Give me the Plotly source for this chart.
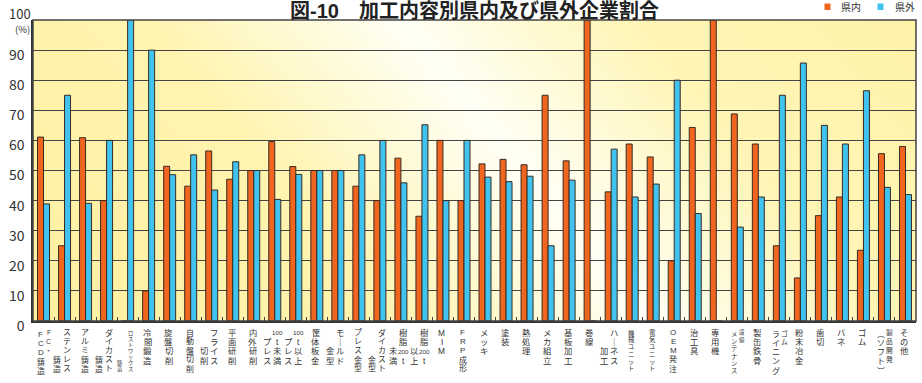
import base64
import plotly.graph_objects as go

# ---- data -------------------------------------------------------------
# Each label is listed as its vertical text columns, read right to left.
LABEL_COLUMNS = [
    ["FC・", "FCD鋳造"],
    ["ステンレス", "鋳造"],
    ["アルミ鋳造"],
    ["ダイカスト", "鋳造"],
    ["ロストワックス", "鋳造"],
    ["冷間鍛造"],
    ["旋盤切削"],
    ["自動盤切削"],
    ["フライス", "切削"],
    ["平面研削"],
    ["内外研削"],
    ["100t未満", "プレス"],
    ["100t以上", "プレス"],
    ["筐体板金"],
    ["モールド", "金型"],
    ["プレス金型"],
    ["ダイカスト", "金型"],
    ["樹脂200t", "未満"],
    ["樹脂200t", "以上"],
    ["MIM"],
    ["FRP成形"],
    ["メッキ"],
    ["塗装"],
    ["熱処理"],
    ["メカ組立"],
    ["基板加工"],
    ["巻線"],
    ["ハーネス", "加工"],
    ["機械ユニット"],
    ["電気ユニット"],
    ["OEM発注"],
    ["治工具"],
    ["専用機"],
    ["設備", "メンテナンス"],
    ["製缶鉄骨"],
    ["ゴム", "ライニング"],
    ["粉末冶金"],
    ["歯切"],
    ["バネ"],
    ["ゴム"],
    ["製品開発", "(ソフト)"],
    ["その他"],
]
CATEGORIES = ["".join(cols) for cols in LABEL_COLUMNS]

# 県内 (in-prefecture) share, %
IN_PREF = [61.1, 25, 60.9, 40, 0, 10, 51.4, 44.8, 56.5, 47.1, 50, 59.6, 51.3, 50,
           50, 44.8, 40, 54.1, 34.8, 60, 40, 52.2, 53.7, 51.9, 75, 53.2, 100, 42.9,
           58.8, 54.5, 20, 64.3, 100, 68.8, 58.8, 25, 14.3, 35, 41.2, 23.5, 55.6, 58]
# 県外 (out-of-prefecture) share, %
OUT_PREF = [38.9, 75, 39.1, 60, 100, 90, 48.6, 55.2, 43.5, 52.9, 50, 40.4, 48.7, 50,
            50, 55.2, 60, 45.9, 65.2, 40, 60, 47.8, 46.3, 48.1, 25, 46.8, 0, 57.1,
            41.2, 45.5, 80, 35.7, 0, 31.2, 41.2, 75, 85.7, 65, 58.8, 76.5, 44.4, 42]

Y_TICKS = [0, 10, 20, 30, 40, 50, 60, 70, 80, 90]
SERIES_NAMES = ["県内", "県外"]
TITLE = "図-10　加工内容別県内及び県外企業割合"

# ---- styling ----------------------------------------------------------
W, H = 922, 383
ML, MR, MT, MB = 33, 6, 20, 62
PW, PH = W - ML - MR, H - MT - MB
ORANGE = "#F1661F"
BLUE = "#40C4EF"
EDGE = "#3a2a22"
INK = "#333333"
FONT = "Noto Sans CJK JP"
# compact line metrics for stacked glyphs and the title; kana/kanji fall back to CJK
TIGHT_FONT = "Liberation Sans, Noto Sans CJK JP"
N = len(CATEGORIES)
CAT_PX = PW / N


def px_x(px):
    return (px - ML) / PW


def px_y(py):
    return (MT + PH - py) / PH


# plot-area background: yellow with a diagonal pale glow
svg = f'''<svg xmlns="http://www.w3.org/2000/svg" width="{PW}" height="{PH}" viewBox="0 0 {PW} {PH}" preserveAspectRatio="none">
<defs><linearGradient id="g" gradientUnits="userSpaceOnUse" x1="-147.5" y1="122.9" x2="520.9" y2="-434.1">
<stop offset="0" stop-color="#FFF0A0"/>
<stop offset="0.32" stop-color="#FFF4B0"/>
<stop offset="0.545" stop-color="#FFFFF5"/>
<stop offset="0.75" stop-color="#FFF5B6"/>
<stop offset="1" stop-color="#FFF3A8"/>
</linearGradient></defs><rect width="{PW}" height="{PH}" fill="url(#g)"/></svg>'''
bg_src = "data:image/svg+xml;base64," + base64.b64encode(svg.encode()).decode()

fig = go.Figure()
fig.add_trace(go.Bar(x=CATEGORIES, y=IN_PREF, name=SERIES_NAMES[0],
                     marker=dict(color=ORANGE, line=dict(color=EDGE, width=1))))
fig.add_trace(go.Bar(x=CATEGORIES, y=OUT_PREF, name=SERIES_NAMES[1],
                     marker=dict(color=BLUE, line=dict(color=EDGE, width=1))))


# ---- vertical category labels -----------------------------------------
def slots(text):
    """Split a column into vertical glyph slots (digit runs share one slot)."""
    out, i = [], 0
    text = text.replace("ー", "｜").replace("(", "︵").replace(")", "︶")
    while i < len(text):
        if text[i].isdigit():
            j = i
            while j < len(text) and text[j].isdigit():
                j += 1
            out.append(text[i:j])
            i = j
        else:
            out.append(text[i])
            i += 1
    return out


annotations = []
FIRST_Y = 332.5    # centre of the first glyph row
SPAN = 36.0        # distance between first and last glyph rows


def step_for(n):
    return 9.4 if n <= 1 else min(9.4, SPAN / (n - 1))


def size_for(step):
    return step / 1.13


def put_column(ci, dx, glyphs, ys, size):
    for g, y in zip(glyphs, ys):
        fs = size * 0.75 if g.isdigit() else size
        annotations.append(dict(
            x=ci + dx / CAT_PX, y=px_y(y), xref="x", yref="paper",
            text=g, showarrow=False, xanchor="center", yanchor="middle",
            borderpad=0, borderwidth=0,
            font=dict(family=TIGHT_FONT, size=round(fs, 2), color=INK)))


for ci, cols in enumerate(LABEL_COLUMNS):
    if len(cols) == 1:
        g = slots(cols[0])
        st = step_for(len(g))
        put_column(ci, -1.0, g, [FIRST_Y + k * st for k in range(len(g))], size_for(st))
    else:
        gr, gl = slots(cols[0]), slots(cols[1])
        if len(gr) >= len(gl):
            # main text on the right, the tail hangs lower on the left
            st = step_for(len(gr))
            ys_r = [FIRST_Y + k * st for k in range(len(gr))]
            ys_l = [ys_r[-1] - (len(gl) - 1 - k) * st for k in range(len(gl))]
            put_column(ci, 2.5, gr, ys_r, size_for(st))
            put_column(ci, -7.5, gl, ys_l, size_for(st))
        else:
            # short head on the right, main text on the left
            st = step_for(len(gl))
            ys_r = [FIRST_Y + k * st for k in range(len(gr))]
            ys_l = [FIRST_Y + 2 + k * st for k in range(len(gl))]
            put_column(ci, 5.0, gr, ys_r, size_for(st) * 0.85)
            put_column(ci, -3.0, gl, ys_l, size_for(st))

# y axis top label and unit
annotations.append(dict(x=px_x(31.5), y=px_y(23.5), xref="paper", yref="paper",
                        text="100", showarrow=False, xanchor="right", yanchor="bottom",
                        borderpad=0, font=dict(family=FONT, size=13, color=INK)))
annotations.append(dict(x=px_x(22.5), y=px_y(29), xref="paper", yref="paper",
                        text="(%)", showarrow=False, xanchor="center", yanchor="middle",
                        borderpad=0, font=dict(family=FONT, size=9.5, color=INK)))
# title, tucked against the top edge
annotations.append(dict(x=px_x(474.5), y=px_y(0.4), xref="paper", yref="paper",
                        text="<b>" + TITLE + "</b>", showarrow=False,
                        xanchor="center", yanchor="top", borderpad=0, borderwidth=0,
                        font=dict(family=TIGHT_FONT, size=20, color="#222222")))

# legend
shapes = []
for name, color, sx, tx in [(SERIES_NAMES[0], ORANGE, 824.5, 839),
                             (SERIES_NAMES[1], BLUE, 877.5, 892.5)]:
    shapes.append(dict(type="rect", xref="paper", yref="paper",
                       x0=px_x(sx), x1=px_x(sx + 6), y0=px_y(10), y1=px_y(3.5),
                       fillcolor=color, line=dict(width=0)))
    annotations.append(dict(x=px_x(tx), y=px_y(6.5), xref="paper", yref="paper",
                            text=name, showarrow=False, xanchor="left", yanchor="middle",
                            font=dict(family=FONT, size=10, color=INK)))

# plot frame (top and right edges)
shapes.append(dict(type="rect", xref="paper", yref="paper", x0=0, x1=1, y0=0, y1=1,
                   line=dict(color="#444444", width=1.5), layer="above"))

fig.update_layout(
    width=W, height=H,
    margin=dict(l=ML, r=MR, t=MT, b=MB, pad=0),
    paper_bgcolor="white", plot_bgcolor="#FFF4B0",
    barmode="group", bargap=0.43, bargroupgap=0,
    showlegend=False,
    font=dict(family=FONT, color=INK),
    annotations=annotations, shapes=shapes,
    images=[dict(source=bg_src, xref="paper", yref="paper", x=0, y=1,
                 sizex=1, sizey=1, xanchor="left", yanchor="top",
                 sizing="stretch", layer="below")],
    xaxis=dict(showticklabels=False, ticks="inside", tickson="boundaries",
               ticklen=4, tickcolor="#444444", showline=True, linecolor="#333333",
               linewidth=2, showgrid=False, range=[-0.5, N - 0.5]),
    yaxis=dict(range=[0, 100], tickvals=Y_TICKS, showgrid=True,
               gridcolor="#444444", gridwidth=1.3, showline=True,
               linecolor="#333333", linewidth=1.5, zeroline=False,
               ticks="", ticklabelstandoff=4, ticklabelshift=5,
               tickfont=dict(family=FONT, size=14, color=INK)),
)

fig.write_html("out.html")
